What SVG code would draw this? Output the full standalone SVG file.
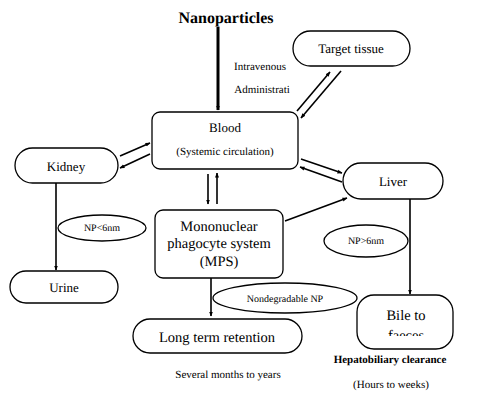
<svg xmlns="http://www.w3.org/2000/svg" width="481" height="400" viewBox="0 0 481 400">
<defs>
<style>
.box{fill:#fff;stroke:#000;stroke-width:1.3}
.ln{stroke:#000;stroke-width:1.6;fill:none}
text{text-rendering:geometricPrecision}
</style>
<marker id="ah" viewBox="0 0 10 10" refX="9" refY="5" markerWidth="5" markerHeight="5" orient="auto" markerUnits="userSpaceOnUse">
<path d="M0,1 L10,5 L0,9 Z" fill="#000"/>
</marker>
<clipPath id="bileclip"><rect x="357" y="295" width="97" height="41"/></clipPath>
</defs>
<rect width="481" height="400" fill="#fff"/>

<g id="connectors">
<line x1="218" y1="27" x2="218" y2="110" stroke="#000" stroke-width="3" marker-end="url(#ah)"/>
<line class="ln" x1="297" y1="111" x2="330" y2="72" marker-end="url(#ah)"/>
<line class="ln" x1="341" y1="71" x2="301" y2="118" marker-end="url(#ah)"/>
<line class="ln" x1="120" y1="156" x2="150" y2="143" marker-end="url(#ah)"/>
<line class="ln" x1="150" y1="154" x2="120" y2="168" marker-end="url(#ah)"/>
<line class="ln" x1="208" y1="174" x2="208" y2="204" marker-end="url(#ah)"/>
<line class="ln" x1="217" y1="204" x2="217" y2="173" marker-end="url(#ah)"/>
<line class="ln" x1="301" y1="159" x2="342" y2="173" marker-end="url(#ah)"/>
<line class="ln" x1="342" y1="182" x2="300" y2="167" marker-end="url(#ah)"/>
<line class="ln" x1="285" y1="221" x2="347" y2="198" marker-end="url(#ah)"/>
<line class="ln" x1="56" y1="183" x2="56" y2="270" marker-end="url(#ah)"/>
<line class="ln" x1="410" y1="199" x2="410" y2="294" marker-end="url(#ah)"/>
<line class="ln" x1="211" y1="278" x2="211" y2="316" marker-end="url(#ah)"/>
</g>

<g font-family="'Liberation Serif', 'Times New Roman', serif" text-anchor="middle" fill="#000">
<g id="title"><text x="226" y="23" font-size="16" font-weight="bold">Nanoparticles</text></g>
<g id="route">
<text x="260" y="70" font-size="11">Intravenous</text>
<text x="262" y="93" font-size="11">Administrati</text>
</g>

<g id="target"><rect class="box" x="293" y="31" width="117" height="35" rx="17.5"/><text x="351" y="53" font-size="13">Target tissue</text></g>

<g id="blood"><rect class="box" x="152" y="112" width="146" height="57" rx="8"/>
<text x="225" y="132" font-size="13">Blood</text>
<text x="225" y="155" font-size="11">(Systemic circulation)</text></g>

<g id="kidney"><rect class="box" x="15" y="148" width="103" height="35" rx="17.5"/><text x="66" y="171" font-size="13">Kidney</text></g>

<g id="np-small"><ellipse class="box" cx="102" cy="228" rx="44" ry="13"/><text x="102" y="231" font-size="10">NP&lt;6nm</text></g>

<g id="urine"><rect class="box" x="10" y="271" width="108" height="32" rx="16"/><text x="64" y="292" font-size="13">Urine</text></g>

<g id="mps"><rect class="box" x="155" y="210" width="128" height="68" rx="8"/>
<text x="219" y="231" font-size="14.5">Mononuclear</text>
<text x="219" y="248" font-size="14.5">phagocyte system</text>
<text x="219" y="266" font-size="14.5">(MPS)</text></g>

<g id="liver"><rect class="box" x="343" y="163" width="100" height="36" rx="18"/><text x="393" y="186" font-size="13">Liver</text></g>

<g id="np-large"><ellipse class="box" cx="366" cy="241" rx="42" ry="16"/><text x="366" y="244" font-size="10">NP&gt;6nm</text></g>

<g id="nondeg"><ellipse class="box" cx="285" cy="298" rx="72" ry="15"/><text x="285" y="302" font-size="10">Nondegradable NP</text></g>

<g id="longterm"><rect class="box" x="133" y="319" width="169" height="34" rx="17"/><text x="217" y="342" font-size="14.5">Long term retention</text></g>

<text x="228" y="378" font-size="11">Several months to years</text>

<g id="bile"><rect class="box" x="357" y="295" width="96" height="54" rx="17"/>
<text x="406" y="320" font-size="14.5">Bile to</text>
<text x="406" y="340" font-size="14.5" clip-path="url(#bileclip)">faeces</text></g>

<text x="390" y="363" font-size="11" font-weight="bold">Hepatobiliary clearance</text>
<text x="391" y="388" font-size="11">(Hours to weeks)</text>
</g>
</svg>
